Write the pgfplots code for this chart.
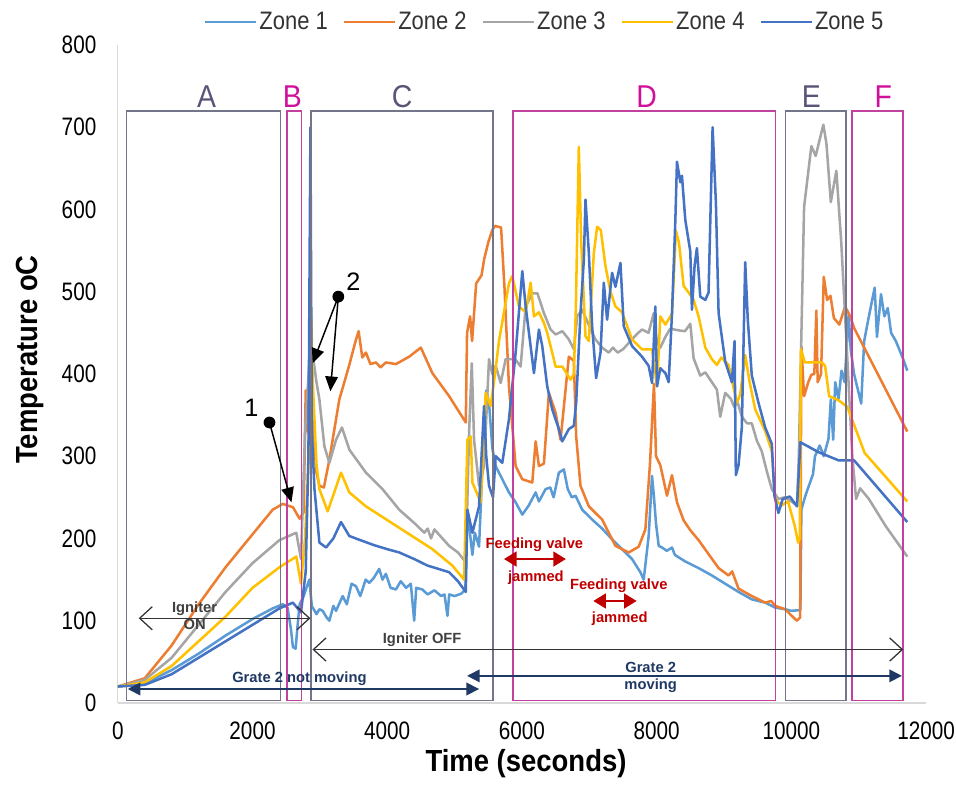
\documentclass[border=0pt]{standalone}
\usepackage{fontspec}
\setmainfont{Liberation Sans}
\newfontfamily\narrow[FakeStretch=0.87]{Liberation Sans}
\newfontfamily\ticknarrow[FakeStretch=0.82]{Liberation Sans}
\newfontfamily\labfont[FakeStretch=0.9]{Liberation Sans}
\usepackage{pgfplots}
\pgfplotsset{compat=1.18}
\usetikzlibrary{arrows.meta}
\definecolor{zone1}{HTML}{5B9BD5}
\definecolor{zone2}{HTML}{ED7D31}
\definecolor{zone3}{HTML}{A5A5A5}
\definecolor{zone4}{HTML}{FFC000}
\definecolor{zone5}{HTML}{4472C4}
\definecolor{boxgray}{HTML}{74748A}
\definecolor{boxmag}{HTML}{C2409E}
\definecolor{letgray}{HTML}{5A5578}
\definecolor{letmag}{HTML}{D0109A}
\definecolor{navy}{HTML}{1F3864}
\definecolor{darkred}{HTML}{C00000}
\begin{document}
\begin{tikzpicture}
\begin{axis}[
  scale only axis, width=384pt, height=312.6pt,
  xmin=0, xmax=12000, ymin=0, ymax=800,
  axis lines=left, axis line style={draw=black!15, line width=0.6pt, -},
  xtick={0,2000,...,12000}, ytick={0,100,...,800}, major tick length=0,
  scaled x ticks=false, scaled y ticks=false,
  tick label style={font=\ticknarrow\fontsize{12}{14}\selectfont, inner sep=0.5pt},
  /pgf/number format/assume math mode=true,
  /pgf/number format/set thousands separator={},
  xticklabel style={yshift=-8.5pt},
  yticklabel style={xshift=-9.5pt},
  xlabel={Time (seconds)}, ylabel={Temperature oC},
  label style={font=\labfont\bfseries\fontsize{14.5}{17}\selectfont},
  xlabel style={at={(axis description cs:0.505,-0.0926)}, anchor=center},
  ylabel style={at={(axis description cs:-0.1086,0.522)}, anchor=center},
  legend columns=5,
  legend style={draw=none, fill=none, at={(axis description cs:0.528,1.035)}, anchor=center,
    font=\narrow\fontsize{12}{14}\selectfont, text=black!80, nodes={inner sep=1pt},
    /tikz/every even column/.append style={column sep=6pt}},
  legend image code/.code={\draw[#1,line width=1.3pt] (0cm,0cm) -- (0.85cm,0cm);},
  every axis plot/.append style={line width=1.2pt, line join=round, mark=none},
]
\addplot[zone1] coordinates {(0,20) (400,24) (800,40) (1200,60) (1600,82) (2000,102) (2300,115) (2450,120) (2520,116) (2570,90) (2600,68) (2640,66) (2670,95) (2700,120) (2760,130) (2800,140) (2844,150) (2880,118) (2950,108) (2993,114) (3042,112) (3100,104) (3141,100) (3200,118) (3240,112) (3338,130) (3400,120) (3470,145) (3536,142) (3600,130) (3680,150) (3733,146) (3800,152) (3881,163) (3930,150) (3980,157) (4050,140) (4129,138) (4200,148) (4280,140) (4350,145) (4400,100) (4430,140) (4520,138) (4600,132) (4700,137) (4800,130) (4850,132) (4894,106) (4920,132) (5000,130) (5100,133) (5160,138) (5190,235) (5230,205) (5264,180) (5300,207) (5363,190) (5420,300) (5470,380) (5511,365) (5560,310) (5610,288) (5708,272) (5807,256) (5906,244) (6005,229) (6100,240) (6203,256) (6252,245) (6351,260) (6420,262) (6470,250) (6548,280) (6622,284) (6680,260) (6740,250) (6795,252) (6894,235) (7042,223) (7190,212) (7338,199) (7486,187) (7634,175) (7758,159) (7807,150) (7881,203) (7931,276) (7960,250) (7990,218) (8030,191) (8079,189) (8150,185) (8227,189) (8270,180) (8425,172) (8622,164) (8819,155) (9017,145) (9215,135) (9412,126) (9610,122) (9758,116) (9906,114) (10000,112) (10133,113) (10148,235) (10200,250) (10250,262) (10320,278) (10350,300) (10420,313) (10480,300) (10550,321) (10585,369) (10620,320) (10650,390) (10700,370) (10744,404) (10790,390) (10850,473) (10880,430) (10930,400) (11036,364) (11080,440) (11150,470) (11236,505) (11270,445) (11330,497) (11380,470) (11430,480) (11480,450) (11550,440) (11650,420) (11720,404)};
\addlegendentry{Zone 1}
\addplot[zone2] coordinates {(0,20) (400,30) (800,70) (1200,120) (1600,165) (2000,205) (2300,235) (2450,242) (2600,238) (2700,224) (2760,232) (2790,380) (2820,330) (2860,385) (2900,330) (2950,280) (2993,264) (3060,262) (3141,296) (3289,369) (3437,411) (3530,440) (3575,452) (3630,420) (3684,426) (3750,412) (3832,414) (3900,408) (3980,414) (4129,412) (4326,421) (4499,432) (4670,401) (4919,373) (5166,341) (5185,450) (5230,470) (5260,440) (5320,510) (5400,520) (5440,540) (5500,560) (5560,575) (5600,580) (5690,578) (5740,506) (5807,385) (5906,288) (6005,272) (6153,268) (6203,318) (6252,288) (6326,291) (6400,377) (6499,353) (6573,320) (6696,421) (6770,416) (6805,324) (6869,264) (6993,239) (7190,223) (7388,191) (7585,183) (7733,190) (7832,211) (7900,290) (7960,388) (7990,300) (8054,289) (8153,252) (8227,277) (8301,244) (8400,222) (8499,210) (8622,198) (8770,181) (8919,164) (9067,155) (9120,160) (9215,139) (9412,130) (9610,122) (9700,124) (9758,118) (9906,114) (10005,106) (10080,100) (10130,104) (10148,434) (10188,373) (10250,390) (10296,399) (10340,400) (10370,477) (10390,390) (10440,400) (10480,518) (10530,490) (10580,495) (10630,468) (10711,460) (10797,482) (10874,470) (10930,456) (11720,330)};
\addlegendentry{Zone 2}
\addplot[zone3] coordinates {(0,20) (400,28) (800,55) (1200,95) (1600,135) (2000,170) (2400,198) (2650,207) (2720,175) (2780,330) (2840,410) (2900,420) (2950,390) (2993,369) (3067,312) (3141,292) (3240,320) (3328,335) (3437,308) (3684,280) (3930,260) (4178,235) (4425,217) (4550,207) (4600,212) (4650,200) (4700,211) (4918,191) (5050,183) (5166,171) (5215,329) (5255,413) (5289,320) (5363,264) (5437,288) (5511,418) (5560,400) (5610,410) (5684,389) (5758,418) (5900,418) (5980,409) (6055,482) (6153,498) (6230,498) (6326,474) (6425,454) (6500,448) (6600,452) (6696,442) (6770,430) (6820,470) (6894,478) (6990,460) (7091,442) (7190,432) (7289,426) (7350,432) (7420,426) (7500,430) (7634,442) (7700,448) (7782,454) (7880,450) (7956,474) (8000,440) (8054,432) (8129,445) (8200,455) (8326,453) (8420,452) (8499,461) (8548,419) (8647,398) (8722,402) (8819,390) (8894,381) (8943,348) (9017,377) (9100,370) (9150,360) (9200,366) (9264,348) (9340,340) (9412,340) (9486,319) (9560,306) (9634,282) (9709,260) (9807,248) (9900,250) (10000,245) (10083,240) (10110,300) (10188,603) (10296,677) (10360,665) (10474,703) (10520,680) (10585,609) (10667,647) (10740,560) (10823,430) (10904,300) (10960,248) (11020,261) (11150,248) (11400,215) (11720,178)};
\addlegendentry{Zone 3}
\addplot[zone4] coordinates {(0,20) (400,25) (800,45) (1200,75) (1600,105) (2000,140) (2400,165) (2650,178) (2720,145) (2780,200) (2830,290) (2870,472) (2900,380) (2950,290) (2993,260) (3116,233) (3314,280) (3437,256) (3684,239) (4178,213) (4671,187) (4967,167) (5141,150) (5190,320) (5240,324) (5264,268) (5388,244) (5462,377) (5536,361) (5600,400) (5659,440) (5807,510) (5856,519) (5956,482) (6055,475) (6129,511) (6178,470) (6252,475) (6326,462) (6375,450) (6449,426) (6499,409) (6600,409) (6721,393) (6770,400) (6800,480) (6844,676) (6880,560) (6943,446) (6993,440) (7067,547) (7116,579) (7170,575) (7240,531) (7314,500) (7388,482) (7486,475) (7634,442) (7782,430) (7931,430) (8005,385) (8054,470) (8129,460) (8227,473) (8286,574) (8330,560) (8400,507) (8474,499) (8548,490) (8622,470) (8722,432) (8819,418) (8893,411) (8960,420) (9067,411) (9190,365) (9240,375) (9314,423) (9380,390) (9462,357) (9610,331) (9709,306) (9758,248) (9850,240) (9950,245) (10000,230) (10050,215) (10100,195) (10125,200) (10140,430) (10200,414) (10450,414) (10500,410) (10560,373) (10700,368) (10830,360) (11087,304) (11720,245)};
\addlegendentry{Zone 4}
\addplot[zone5] coordinates {(0,20) (400,22) (800,35) (1200,55) (1600,75) (2000,95) (2400,115) (2600,122) (2720,110) (2790,160) (2830,300) (2860,700) (2880,330) (2920,260) (2993,195) (3092,189) (3200,200) (3314,220) (3437,203) (3600,198) (3800,192) (4000,187) (4178,183) (4400,175) (4600,167) (4800,162) (4919,159) (5050,148) (5166,135) (5190,235) (5264,207) (5363,239) (5437,361) (5470,300) (5511,264) (5570,250) (5610,300) (5708,292) (5807,345) (5906,426) (6005,525) (6055,482) (6104,450) (6178,401) (6252,454) (6301,434) (6375,385) (6449,357) (6548,333) (6598,318) (6696,333) (6770,337) (6805,365) (6869,474) (6919,539) (6943,612) (6993,547) (7042,458) (7101,395) (7166,426) (7215,511) (7264,466) (7338,523) (7388,506) (7462,535) (7511,458) (7634,434) (7782,421) (7880,410) (7931,389) (7980,482) (8005,385) (8054,407) (8129,401) (8178,390) (8227,473) (8277,587) (8301,658) (8351,633) (8375,641) (8425,587) (8499,549) (8523,478) (8563,532) (8597,553) (8647,494) (8722,490) (8770,499) (8830,700) (8879,608) (8919,474) (9017,415) (9116,390) (9156,440) (9175,277) (9215,289) (9264,335) (9314,536) (9353,465) (9412,398) (9511,365) (9610,335) (9709,315) (9748,252) (9807,231) (9871,248) (9976,251) (10083,239) (10133,317) (10400,305) (10700,295) (10930,295) (11720,220)};
\addlegendentry{Zone 5}
% phase boxes
\draw[boxgray, line width=0.8pt] (130,3) rectangle (2415,720);
\draw[boxmag, line width=0.8pt] (2514,3) rectangle (2726,720);
\draw[boxgray, line width=0.8pt] (2870,3) rectangle (5570,720);
\draw[boxmag, line width=0.8pt] (5862,3) rectangle (9763,720);
\draw[boxgray, line width=0.8pt] (9911,3) rectangle (10815,720);
\draw[boxmag, line width=0.8pt] (10900,3) rectangle (11659,720);
\begin{scope}[every node/.style={font=\labfont\fontsize{15}{17}\selectfont}]
\node[text=letgray] at (1319,737) {A};
\node[text=letmag] at (2593,737) {B};
\node[text=letgray] at (4222,737) {C};
\node[text=letmag] at (7852,737) {D};
\node[text=letgray] at (10296,737) {E};
\node[text=letmag] at (11363,737) {F};
\end{scope}
% numbered markers
\node[font=\fontsize{12}{14}\selectfont] at (1985,359) {1};
\fill (2252,341) circle (2.8pt);
\draw[-{Triangle[length=7pt,width=6pt]}, line width=0.7pt] (2252,341) -- (2578,244);
\node[font=\fontsize{12}{14}\selectfont] at (3496,512) {2};
\fill (3274,494) circle (2.8pt);
\draw[-{Triangle[length=7pt,width=6pt]}, line width=0.7pt] (3274,494) -- (2893,413);
\draw[-{Triangle[length=7pt,width=6pt]}, line width=0.7pt] (3274,494) -- (3156,379);
% igniter arrows
\draw[{Straight Barb[length=6pt,width=11pt]}-{Straight Barb[length=6pt,width=11pt]}, line width=0.6pt, black!80] (311,103) -- (2860,103);
\draw[{Straight Barb[length=6pt,width=11pt]}-{Straight Barb[length=6pt,width=11pt]}, line width=0.6pt, black!80] (2890,65) -- (11660,65);
\begin{scope}[every node/.style={font=\bfseries\fontsize{7}{8}\selectfont}]
\node[text=black!75] at (1141,115) {Igniter};
\node[text=black!75] at (1141,95) {ON};
\node[text=black!75] at (4519,77) {Igniter OFF};
\node[text=navy] at (2696,30) {Grate 2 not moving};
\node[text=navy] at (7911,43) {Grate 2};
\node[text=navy] at (7911,21) {moving};
\node[text=darkred] at (6185,193) {Feeding valve};
\node[text=darkred] at (6207,152) {jammed};
\node[text=darkred] at (7437,143) {Feeding valve};
\node[text=darkred] at (7452,103) {jammed};
\end{scope}
% grate arrows
\draw[{Triangle[length=6pt,width=6pt]}-{Triangle[length=6pt,width=6pt]}, line width=0.8pt, navy] (148,17) -- (5363,17);
\draw[{Triangle[length=6pt,width=6pt]}-{Triangle[length=6pt,width=6pt]}, line width=0.8pt, navy] (5185,33) -- (11640,33);
% feeding valve arrows
\draw[{Triangle[length=6pt,width=7pt]}-{Triangle[length=6pt,width=7pt]}, line width=1.2pt, darkred] (5733,175) -- (6652,175);
\draw[{Triangle[length=6pt,width=7pt]}-{Triangle[length=6pt,width=7pt]}, line width=1.2pt, darkred] (7059,124) -- (7703,124);
\coordinate (bl) at (axis description cs:-0.1457,-0.1153);
\coordinate (tr) at (axis description cs:1.036,1.0683);
\end{axis}
\path (bl) rectangle (tr);
\end{tikzpicture}
\end{document}
